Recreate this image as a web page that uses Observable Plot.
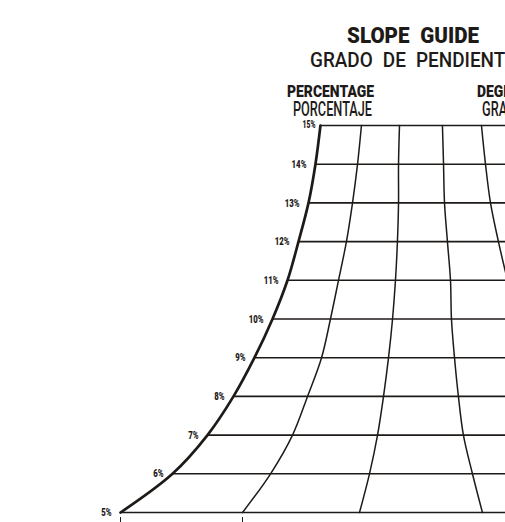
<!DOCTYPE html>
<html>
<head>
<meta charset="utf-8">
<script src="https://cdn.jsdelivr.net/npm/d3@7"></script>
<script src="https://cdn.jsdelivr.net/npm/@observablehq/plot@0.6"></script>
<style>
  html, body { margin: 0; padding: 0; background: #fff; overflow: hidden; }
  #wrap { position: relative; width: 505px; height: 522px; overflow: hidden; }
  #head { position: relative; width: 505px; height: 118px; }
  .t { position: absolute; white-space: pre; line-height: 0.8; color: #1e1a18;
       font-family: Roboto, "Liberation Sans", sans-serif; font-weight: 500; transform-origin: 0 0; }
  .b { font-weight: 900; }
</style>
</head>
<body>
<div id="wrap">
  <div id="head">
    <div class="t b" id="t1" style="left:347px;top:26.5px;font-size:22px;word-spacing:6px">SLOPE GUIDE</div>
    <div class="t" id="t2" style="left:310px;top:51.5px;font-size:21px;word-spacing:6px">GRADO DE PENDIENTE</div>
    <div class="t b" id="t3" style="left:287px;top:84.5px;font-size:17px">PERCENTAGE</div>
    <div class="t" id="t4" style="left:293px;top:101px;font-size:20px">PORCENTAJE</div>
    <div class="t b" id="t5" style="left:477px;top:84.5px;font-size:17px">DEGREES</div>
    <div class="t" id="t6" style="left:482px;top:101px;font-size:20px">GRADOS</div>
  </div>
  <div id="chart"></div>
</div>
<script>
// Slope percentages (rows of the guide)
const percents = [5, 6, 7, 8, 9, 10, 11, 12, 13, 14, 15];
const percentLabels = ["5%", "6%", "7%", "8%", "9%", "10%", "11%", "12%", "13%", "14%", "15%"];

// Horizontal distance (arbitrary ruler units) of each curve at each percentage row
const percentCurve = [0, 4.26, 7.13, 9.26, 10.98, 12.46, 13.69, 14.59, 15.41, 15.98, 16.39];
const guide2 = [10.0, 12.30, 14.10, 15.33, 16.48, 17.21, 17.87, 18.52, 19.02, 19.43, 19.75];
const guide3 = [19.59, 20.41, 21.07, 21.56, 21.97, 22.30, 22.54, 22.70, 22.79, 22.79, 22.87];
const guide4 = [29.67, 28.85, 28.11, 27.70, 27.38, 27.13, 27.05, 26.80, 26.56, 26.48, 26.39];
// rightmost visible guide (only upper part visible)
const guide5Percents = [11, 12, 13, 14, 15];
const guide5 = [31.72, 30.98, 30.33, 29.92, 29.59];

// Visible horizontal extent of the guide (ruler units)
const xExtent = [-9.84, 31.56];

// Ruler ticks along the bottom
const rulerTicks = [0, 10];

const ink = "#1e1a18";
const font = 'Roboto, "Liberation Sans", sans-serif';

const rows = percents.map((p, i) => ({p, label: percentLabels[i], x: percentCurve[i]}));
const guides = [];
[guide2, guide3, guide4].forEach((g, k) => g.forEach((x, i) => guides.push({g: "g" + (k + 2), p: percents[i], x})));
guide5.forEach((x, i) => guides.push({g: "g5", p: guide5Percents[i], x}));

const chart = Plot.plot({
  width: 505,
  height: 404,
  marginTop: 7,
  marginBottom: 5,
  marginLeft: 0,
  marginRight: 0,
  style: {background: "transparent", overflow: "hidden"},
  x: {domain: xExtent},
  y: {domain: [5, 15], insetBottom: 5, axis: null},
  marks: [
    Plot.ruleY(rows, {y: "p", x1: "x", x2: () => xExtent[1], stroke: ink, strokeWidth: 1.6}),
    Plot.line(guides, {x: "x", y: "p", z: "g", curve: "catmull-rom", stroke: ink, strokeWidth: 1.5}),
    Plot.line(rows, {x: "x", y: "p", curve: "catmull-rom", stroke: ink, strokeWidth: 2.7}),
    Plot.text(rows.filter(d => d.p < 15), {x: "x", y: "p", text: "label", textAnchor: "end", dx: -9,
      fontSize: 11.5, fontWeight: 900, fontFamily: font, fill: ink, className: "pctlab"}),
    Plot.text(rows.filter(d => d.p === 15), {x: "x", y: "p", text: "label", textAnchor: "end", dx: -5, dy: -1,
      fontSize: 10, fontWeight: 900, fontFamily: font, fill: ink, className: "pctlab"}),
    Plot.axisX(rulerTicks, {tickSize: 6, tickFormat: () => "", label: null, stroke: ink, strokeWidth: 1})
  ]
});
document.getElementById("chart").appendChild(chart);

// narrow (condensed) look for the percentage labels
d3.select(chart).selectAll(".pctlab text").each(function () {
  const t = this.getAttribute("transform") || "";
  this.setAttribute("transform", t + " scale(0.68,1)");
});

// Fit header texts to the measured widths of the reference
function fit(id, w) {
  const el = document.getElementById(id);
  const r = el.getBoundingClientRect().width;
  const s = w / r;
  el.style.transform = `scaleX(${s})`;
  return s;
}
fit("t1", 132);
fit("t2", 206);
const s3 = fit("t3", 87);
const s4 = fit("t4", 79);
document.getElementById("t5").style.transform = `scaleX(${s3})`;
document.getElementById("t6").style.transform = `scaleX(${s4})`;
</script>
</body>
</html>
